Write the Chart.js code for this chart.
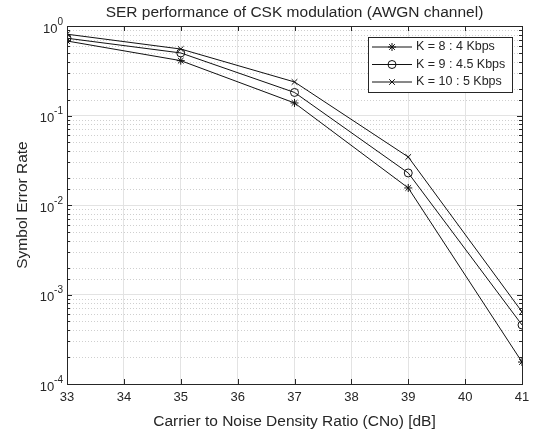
<!DOCTYPE html>
<html>
<head>
<meta charset="utf-8">
<script src="https://cdn.jsdelivr.net/npm/chart.js@4.4.0/dist/chart.umd.min.js"></script>
<style>
  html, body { margin: 0; padding: 0; background: #fff; }
</style>
</head>
<body>
<canvas id="c" width="536" height="433"></canvas>
<script>
// data
const cno = [33, 35, 37, 39, 41];
const serK8 = [0.68, 0.41, 0.138, 0.0155, 0.000176];
const serK9 = [0.73, 0.50, 0.181, 0.0228, 0.000457];
const serK10 = [0.81, 0.553, 0.237, 0.0344, 0.00064];
const seriesNames = ['K = 8 : 4 Kbps', 'K = 9 : 4.5 Kbps', 'K = 10 : 5 Kbps'];
const seriesMarkers = ['star', 'circle', 'crossRot'];
const yDecades = [0, -1, -2, -3, -4];

const FONT = '"Liberation Sans", Arial, sans-serif';
const AX = '#262626';

function pts(vals) {
  return cno.map((x, i) => ({ x: x, y: vals[i] }));
}

const datasets = [serK8, serK9, serK10].map((vals, i) => ({
  label: seriesNames[i],
  data: pts(vals),
  borderColor: '#111',
  borderWidth: 1,
  pointStyle: seriesMarkers[i],
  pointRadius: 4,
  pointBorderColor: '#111',
  pointBackgroundColor: 'rgba(0,0,0,0)',
  pointBorderWidth: 1,
  tension: 0
}));

// minor dotted grid, box, inward ticks, y labels with superscripts, legend
const matlabAxes = {
  id: 'matlabAxes',
  beforeDatasetsDraw(chart) {
    const { ctx, chartArea: a, scales: { y } } = chart;
    ctx.save();
    ctx.strokeStyle = '#cfcfcf';
    ctx.lineWidth = 1;
    ctx.setLineDash([1, 2]);
    y.ticks.forEach(t => {
      if (t.major) return;
      const py = Math.round(y.getPixelForValue(t.value)) + 0.5;
      ctx.beginPath();
      ctx.moveTo(a.left, py);
      ctx.lineTo(a.right, py);
      ctx.stroke();
    });
    ctx.restore();
  },
  afterDraw(chart) {
    const { ctx, chartArea: a, scales: { x, y } } = chart;
    ctx.save();
    ctx.strokeStyle = AX;
    ctx.lineWidth = 1;
    ctx.beginPath();
    x.ticks.forEach(t => {
      const px = Math.round(x.getPixelForValue(t.value)) + 0.5;
      ctx.moveTo(px, a.bottom); ctx.lineTo(px, a.bottom - 5);
      ctx.moveTo(px, a.top); ctx.lineTo(px, a.top + 5);
    });
    y.ticks.forEach(t => {
      const py = Math.round(y.getPixelForValue(t.value)) + 0.5;
      const len = t.major ? 5 : 3;
      ctx.moveTo(a.left, py); ctx.lineTo(a.left + len, py);
      ctx.moveTo(a.right, py); ctx.lineTo(a.right - len, py);
    });
    ctx.stroke();
    ctx.strokeRect(Math.round(a.left) + 0.5, Math.round(a.top) + 0.5,
      Math.round(a.right - a.left), Math.round(a.bottom - a.top));

    // y tick labels 10^n
    ctx.fillStyle = AX;
    ctx.textBaseline = 'middle';
    yDecades.forEach(n => {
      const py = y.getPixelForValue(Math.pow(10, n));
      const sup = n === 0 ? '0' : '-' + (-n);
      ctx.font = '10px ' + FONT;
      const sw = ctx.measureText(sup).width;
      const right = a.left - 4;
      ctx.textAlign = 'left';
      ctx.fillText(sup, right - sw, py - 4);
      ctx.font = '13px ' + FONT;
      ctx.textAlign = 'right';
      ctx.fillText('10', right - sw, py + 3);
    });

    // legend box
    const bw = 144, bh = 55;
    const bx = a.right - 10 - bw, by = a.top + 11;
    ctx.fillStyle = '#fff';
    ctx.fillRect(bx, by, bw, bh);
    ctx.strokeStyle = AX;
    ctx.strokeRect(Math.round(bx) + 0.5, Math.round(by) + 0.5, bw, bh);
    chart.data.datasets.forEach((ds, i) => {
      const ry = by + 10 + i * 17.5;
      ctx.strokeStyle = '#111';
      ctx.beginPath();
      ctx.moveTo(bx + 4, ry); ctx.lineTo(bx + 44, ry);
      ctx.stroke();
      ctx.fillStyle = 'rgba(0,0,0,0)';
      Chart.helpers.drawPoint(ctx, { pointStyle: ds.pointStyle, radius: 4, borderWidth: 1, rotation: 0 }, bx + 24, ry);
      ctx.fillStyle = AX;
      ctx.font = '12.5px ' + FONT;
      ctx.textAlign = 'left';
      ctx.textBaseline = 'middle';
      ctx.fillText(ds.label, bx + 48, ry);
    });
    ctx.restore();
  }
};

new Chart(document.getElementById('c'), {
  type: 'line',
  data: { datasets: datasets },
  plugins: [matlabAxes],
  options: {
    responsive: false,
    animation: false,
    devicePixelRatio: 1,
    layout: { padding: { left: 0, right: 14, top: 0, bottom: 0 } },
    plugins: {
      legend: { display: false },
      tooltip: { enabled: false },
      title: {
        display: true,
        fullSize: false,
        text: 'SER performance of CSK modulation (AWGN channel)',
        color: AX,
        font: { family: FONT, size: 15.5, weight: 'normal' },
        padding: { top: 3.2, bottom: 4.2 }
      }
    },
    scales: {
      x: {
        type: 'linear',
        min: 33,
        max: 41,
        grid: { color: '#e3e3e3', drawTicks: false },
        border: { display: false },
        ticks: { stepSize: 1, padding: 6, color: AX, font: { family: FONT, size: 13 } },
        title: {
          display: true,
          text: 'Carrier to Noise Density Ratio (CNo) [dB]',
          color: AX,
          font: { family: FONT, size: 15.5 },
          padding: { top: 0, bottom: 1.7 }
        },
        afterFit(scale) { scale.height = 49; }
      },
      y: {
        type: 'logarithmic',
        min: 1e-4,
        max: 1,
        grid: {
          drawTicks: false,
          color: ctx => (ctx.tick && ctx.tick.major ? '#e3e3e3' : 'rgba(0,0,0,0)')
        },
        border: { display: false },
        ticks: { callback: () => '', font: { size: 1 } },
        title: {
          display: true,
          text: 'Symbol Error Rate',
          color: AX,
          font: { family: FONT, size: 15.5 },
          padding: { top: 13, bottom: 0 }
        },
        afterFit(scale) { scale.width = 67; }
      }
    }
  }
});
</script>
</body>
</html>
